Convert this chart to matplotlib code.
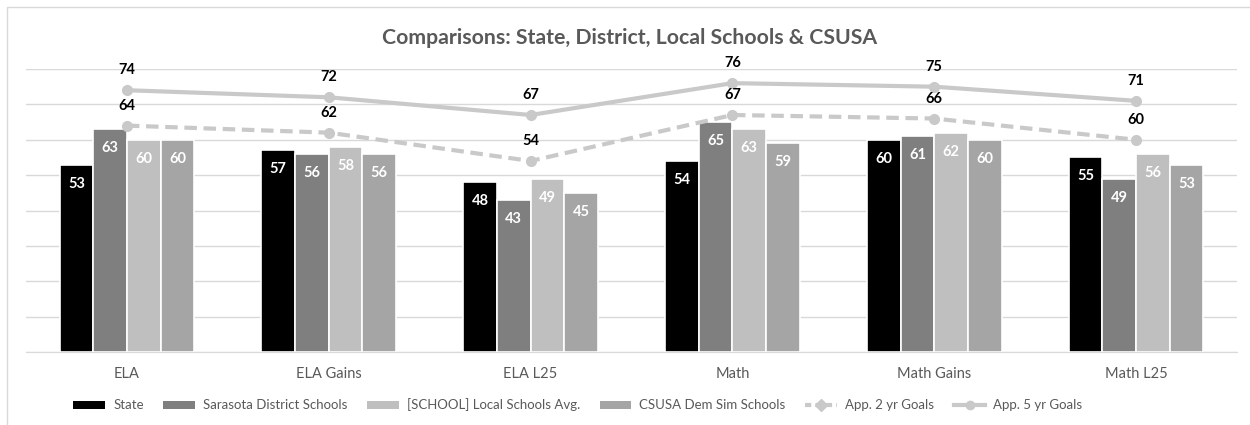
import matplotlib
matplotlib.use("Agg")
import matplotlib.pyplot as plt
import numpy as np
from matplotlib.lines import Line2D
from matplotlib.patches import Patch, Rectangle

plt.rcParams['font.family'] = ['Lato', 'DejaVu Sans']

categories = ["ELA", "ELA Gains", "ELA L25", "Math", "Math Gains", "Math L25"]
state = [53, 57, 48, 54, 60, 55]
district = [63, 56, 43, 65, 61, 49]
local_avg = [60, 58, 49, 63, 62, 56]
csusa = [60, 56, 45, 59, 60, 53]
goals_2yr = [64, 62, 54, 67, 66, 60]
goals_5yr = [74, 72, 67, 76, 75, 71]

bar_series = [
    ("State", state, "#000000"),
    ("Sarasota District Schools", district, "#7f7f7f"),
    ("[SCHOOL] Local Schools Avg.", local_avg, "#bfbfbf"),
    ("CSUSA Dem Sim Schools", csusa, "#a5a5a5"),
]
line_color = "#c9c9c9"
text_gray = "#595959"

fig = plt.figure(figsize=(12.5, 4.25), dpi=100)
# outer chart frame
fig.patches.append(Rectangle((7/1250, -0.1), 1.2, 1 - 7/425 + 0.1, transform=fig.transFigure,
                             fill=False, edgecolor="#d9d9d9", linewidth=1.0))
ax = fig.add_axes([26/1250, 1 - 352/425, (1237 - 26)/1250, (352 - 69)/425])

x = np.arange(len(categories))
w = 0.167
offsets = (np.arange(4) - 1.5) * w
for (name, vals, col), off in zip(bar_series, offsets):
    bars = ax.bar(x + off, vals, width=w, color=col, edgecolor="white", linewidth=1.2,
                  label=name, zorder=2)
    for b, v in zip(bars, vals):
        ax.annotate(f"{v}", (b.get_x() + b.get_width() / 2, v), xytext=(0, -19),
                    textcoords="offset pixels",
                    ha="center", va="center", color="white", fontsize=10.5,
                    fontweight="bold", zorder=5)

ax.plot(x, goals_2yr, color=line_color, linewidth=3, linestyle=(0, (3, 1.6)),
        marker="o", markersize=7, label="App. 2 yr Goals", zorder=3)
ax.plot(x, goals_5yr, color=line_color, linewidth=3, marker="o", markersize=7,
        label="App. 5 yr Goals", zorder=3)
for xi, v in zip(x, goals_2yr):
    ax.annotate(f"{v}", (xi, v), xytext=(0, 20), textcoords="offset pixels",
                ha="center", va="center", color="black", fontsize=10.5, fontweight="bold")
for xi, v in zip(x, goals_5yr):
    ax.annotate(f"{v}", (xi, v), xytext=(0, 20), textcoords="offset pixels",
                ha="center", va="center", color="black", fontsize=10.5, fontweight="bold")

ax.set_xlim(-0.5, len(categories) - 0.5)
ax.set_ylim(0, 80)
ax.set_yticks(np.arange(0, 81, 10))
ax.yaxis.grid(True, color="#d9d9d9", linewidth=1.0, zorder=0)
ax.set_axisbelow(True)
ax.tick_params(axis="y", left=False, labelleft=False)
ax.tick_params(axis="x", bottom=False, labelsize=10.5, labelcolor=text_gray, pad=7)
ax.set_xticks(x)
ax.set_xticklabels(categories)
for s in ["top", "right", "left"]:
    ax.spines[s].set_visible(False)
ax.spines["bottom"].set_color("#d9d9d9")

fig.text(0.504, 1 - 38/425, "Comparisons: State, District, Local Schools & CSUSA",
         ha="center", va="center", fontsize=15.3, fontweight="bold", color=text_gray)

handles = [Patch(facecolor=c, edgecolor="none") for _, _, c in bar_series]
handles += [Line2D([], [], color=line_color, linewidth=3, linestyle=(0, (1.5, 1)),
                   marker="D", markersize=6),
            Line2D([], [], color=line_color, linewidth=3, marker="o", markersize=6)]
labels = [n for n, _, _ in bar_series] + ["App. 2 yr Goals", "App. 5 yr Goals"]
fig.legend(handles, labels, loc="center", bbox_to_anchor=(578/1250, 1 - 405/425), ncol=6,
           frameon=False, fontsize=9.5, labelcolor=text_gray, handlelength=2.4,
           handleheight=0.6, columnspacing=1.5, handletextpad=0.6)

fig.savefig("out.png", dpi=100)
